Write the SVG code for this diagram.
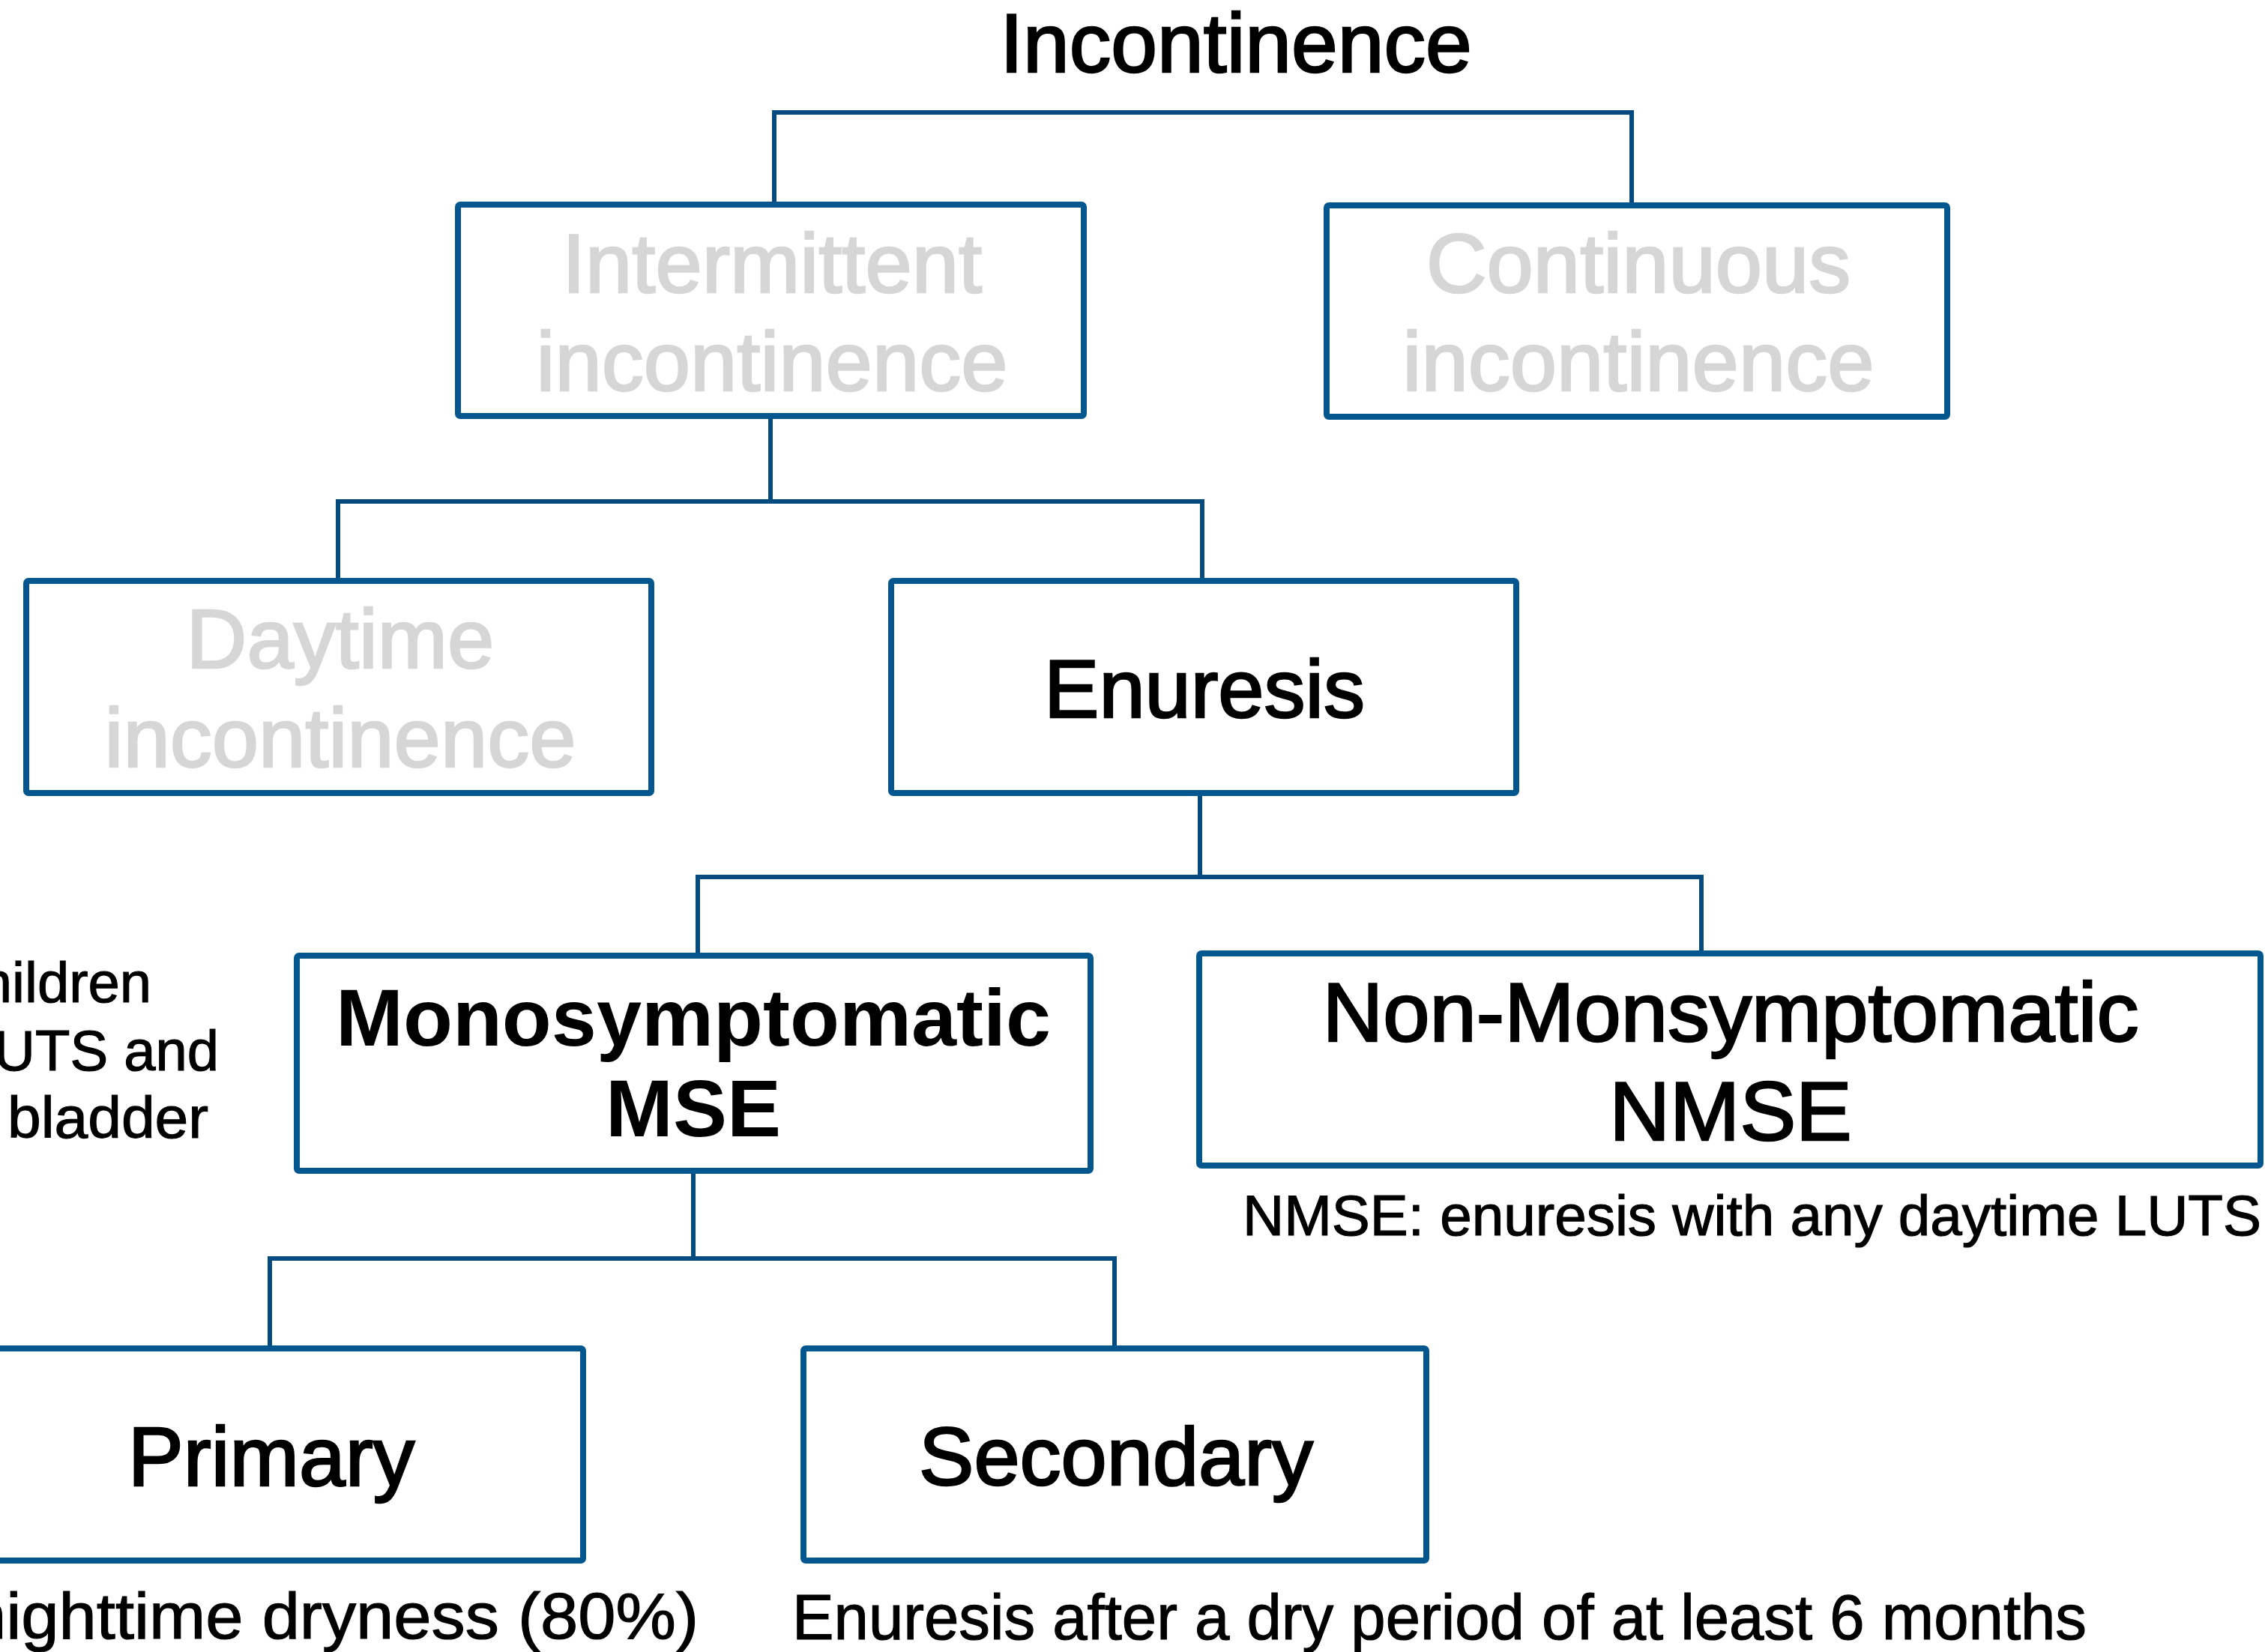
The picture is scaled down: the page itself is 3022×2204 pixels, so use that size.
<svg xmlns="http://www.w3.org/2000/svg" width="3022" height="2204" viewBox="0 0 3022 2204">
<style>
.box{fill:#ffffff;stroke:#04568f;stroke-width:8}
.con{fill:none;stroke:#064b80;stroke-width:6;stroke-linejoin:miter}
.t{font-family:"Liberation Sans",Arial,sans-serif;text-anchor:middle}
.med{fill:#000;stroke:#000;stroke-width:2.6}
.gray{fill:#d6d6d6;stroke:#d6d6d6;stroke-width:2.6}
.bold{fill:#000;font-weight:bold}
.small{font-family:"Liberation Sans",Arial,sans-serif;fill:#000;stroke:#000;stroke-width:1.2}
</style>
<rect width="3022" height="2204" fill="#ffffff"/>
<g id="connectors">
<path class="con" d="M1033,274 V150 H2177 V274"/>
<path class="con" d="M1028,555 V672"/>
<path class="con" d="M451,775 V669 H1604 V775"/>
<path class="con" d="M1601,1058 V1173"/>
<path class="con" d="M931,1275 V1170 H2270 V1272"/>
<path class="con" d="M925,1562 V1682"/>
<path class="con" d="M360,1799 V1679 H1487 V1799"/>
</g>
<g id="title">
<text class="t med" x="1649" y="96" font-size="111">Incontinence</text>
</g>
<g id="intermittent">
<rect class="box" x="611" y="273" width="835" height="282" rx="3"/>
<text class="t gray" x="1030" y="390" font-size="112">Intermittent</text>
<text class="t gray" x="1030" y="521" font-size="112">incontinence</text>
</g>
<g id="continuous">
<rect class="box" x="1770" y="274" width="828" height="282" rx="3"/>
<text class="t gray" x="2186" y="390" font-size="112">Continuous</text>
<text class="t gray" x="2186" y="521" font-size="112">incontinence</text>
</g>
<g id="daytime">
<rect class="box" x="35" y="775" width="834" height="283" rx="3"/>
<text class="t gray" x="454" y="891" font-size="112">Daytime</text>
<text class="t gray" x="454" y="1023" font-size="112">incontinence</text>
</g>
<g id="enuresis">
<rect class="box" x="1189" y="775" width="834" height="283" rx="3"/>
<text class="t med" x="1607" y="957" font-size="110">Enuresis</text>
</g>
<g id="mse">
<rect class="box" x="396" y="1275" width="1059" height="287" rx="3"/>
<text class="t bold" x="925" y="1395" font-size="108">Monosymptomatic</text>
<text class="t bold" x="925" y="1516" font-size="108">MSE</text>
</g>
<g id="nmse">
<rect class="box" x="1600" y="1272" width="1416" height="283" rx="3"/>
<text class="t med" x="2309" y="1389" font-size="112">Non-Monsymptomatic</text>
<text class="t med" x="2309" y="1521" font-size="112">NMSE</text>
<text class="small" x="1658" y="1648" font-size="76" textLength="1359" lengthAdjust="spacingAndGlyphs">NMSE: enuresis with any daytime LUTS</text>
</g>
<g id="primary">
<rect class="box" x="-54" y="1799" width="832" height="283" rx="3"/>
<text class="t med" x="362" y="1982" font-size="111">Primary</text>
<text class="small" x="-42" y="2186" font-size="88" textLength="974" lengthAdjust="spacingAndGlyphs">nighttime dryness (80%)</text>
</g>
<g id="secondary">
<rect class="box" x="1072" y="1799" width="831" height="283" rx="3"/>
<text class="t med" x="1489" y="1981" font-size="110">Secondary</text>
<text class="small" x="1057" y="2187" font-size="86" textLength="1727" lengthAdjust="spacingAndGlyphs">Enuresis after a dry period of at least 6 months</text>
</g>
<g id="side-note">
<text class="small" x="202" y="1337" font-size="76" text-anchor="end">hildren</text>
<text class="small" x="292" y="1428" font-size="76" text-anchor="end">UTS and</text>
<text class="small" x="10" y="1518" font-size="78" textLength="268" lengthAdjust="spacingAndGlyphs">bladder</text>
</g>
</svg>
